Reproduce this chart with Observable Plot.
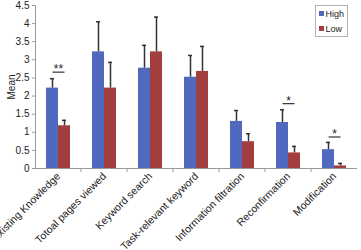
<!DOCTYPE html>
<html>
<head>
<meta charset="utf-8">
<script src="https://cdn.jsdelivr.net/npm/d3@7"></script>
<script src="https://cdn.jsdelivr.net/npm/@observablehq/plot@0.6"></script>
<style>
  body { margin: 0; background: #fff; }
  #chart { position: relative; width: 361px; height: 250px; font-family: "Liberation Sans", Arial, sans-serif; }
  #chart svg { display: block; }
  .legend { position: absolute; left: 315px; top: 5px; width: 31px; height: 30px; border: 1px solid #b3b3b3; background: #fff; font-size: 9px; color: #222; }
  .legend div { display: flex; align-items: center; height: 15px; padding-left: 3px; }
  .legend span.sw { width: 5px; height: 5px; margin-right: 1.5px; }
</style>
</head>
<body>
<div id="chart"></div>
<script>
// Mean scores per behaviour, split by knowledge group
const categories = ["Existing Knowledge", "Totoal pages viewed", "Keyword search", "Task-relevant keyword", "Information filtration", "Reconfirmation", "Modification"];
const groups = ["High", "Low"];
const highMean = [2.22, 3.22, 2.77, 2.52, 1.30, 1.27, 0.52];
const highUpper = [2.48, 4.05, 3.40, 3.12, 1.60, 1.62, 0.72];
const lowMean = [1.18, 2.22, 3.22, 2.68, 0.74, 0.43, 0.07];
const lowUpper = [1.33, 2.93, 4.18, 3.37, 0.96, 0.61, 0.14];
// significance brackets
const sigCategories = ["Existing Knowledge", "Reconfirmation", "Modification"];
const sigLabels = ["**", "*", "*"];
const sigLevels = [2.66, 1.79, 0.87];
const yTicks = [0, 0.5, 1, 1.5, 2, 2.5, 3, 3.5, 4, 4.5];
const colors = ["#5069be", "#a23e3d"];

const rows = categories.flatMap((c, i) => [
  {cat: c, group: "High", mean: highMean[i], upper: highUpper[i]},
  {cat: c, group: "Low", mean: lowMean[i], upper: lowUpper[i]}
]);
const sig = sigCategories.map((c, i) => ({cat: c, label: sigLabels[i], level: sigLevels[i]}));

const plot = Plot.plot({
  width: 361,
  height: 250,
  marginLeft: 33,
  marginRight: 2,
  marginTop: 5,
  marginBottom: 82,
  style: {fontFamily: "'Liberation Sans', Arial, sans-serif", fontSize: "10px", color: "#222", background: "#fff", overflow: "visible"},
  fx: {domain: categories, padding: 0, label: null},
  x: {domain: groups, paddingInner: 0, paddingOuter: 0.86, axis: null},
  y: {domain: [0, 4.5], label: "Mean"},
  color: {domain: groups, range: colors},
  marks: [
    Plot.barY(rows, {fx: "cat", x: "group", y: "mean", fill: "group"}),
    Plot.ruleX(rows, {fx: "cat", x: "group", y1: "mean", y2: "upper", stroke: "#333", strokeWidth: 1.5}),
    Plot.tickY(rows, {fx: "cat", x: "group", y: "upper", stroke: "#333", strokeWidth: 1.5, insetLeft: 4, insetRight: 4}),
    Plot.link(sig, {fx: "cat", x1: () => "High", x2: () => "Low", y1: "level", y2: "level", stroke: "#333", strokeWidth: 1.2}),
    Plot.text(sig, {fx: "cat", y: "level", text: "label", lineAnchor: "bottom", dy: 1, fontSize: 12, fill: "#222"}),
    Plot.ruleY([0], {stroke: "#999"}),
    Plot.frame({anchor: "left", stroke: "#999", facetAnchor: "left"}),
    Plot.axisY({ticks: yTicks, tickSize: 3, tickPadding: 3, tickFormat: d => String(d), stroke: "#999", fontSize: 10, label: "Mean", labelAnchor: "center", labelArrow: "none", labelOffset: 28}),
    Plot.axisFx({anchor: "bottom", tickRotate: -45, tickSize: 0, tickPadding: 6, fontSize: 10.5, label: null})
  ]
});

// category separator ticks on the baseline
const fx = plot.scale("fx");
const y0 = plot.scale("y").apply(0);
const svg = d3.select(plot.tagName === "svg" ? plot : plot.querySelector("svg"));
svg.append("g").attr("stroke", "#999")
  .selectAll("line").data(categories.slice(1)).join("line")
  .attr("x1", d => fx.apply(d)).attr("x2", d => fx.apply(d))
  .attr("y1", y0).attr("y2", y0 + 4);

const chart = document.getElementById("chart");
chart.appendChild(plot);

const legend = document.createElement("div");
legend.className = "legend";
groups.forEach((g, i) => {
  const row = document.createElement("div");
  row.innerHTML = `<span class="sw" style="background:${colors[i]}"></span>${g}`;
  legend.appendChild(row);
});
chart.appendChild(legend);
</script>
</body>
</html>
